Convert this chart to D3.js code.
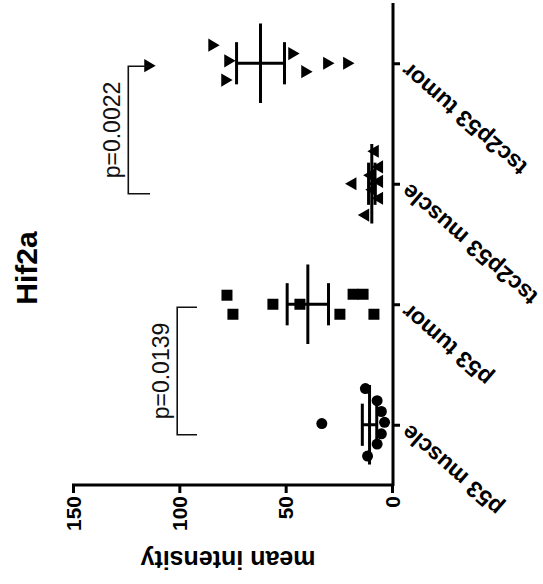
<!DOCTYPE html>
<html>
<head>
<meta charset="utf-8">
<script src="https://cdn.jsdelivr.net/npm/d3@7"></script>
<style>
  body { margin: 0; background: #fff; }
  svg { display: block; font-family: "Liberation Sans", Arial, sans-serif; }
</style>
</head>
<body>
<svg id="chart" width="543" height="584"></svg>
<script>
// data
const categories = ["p53 muscle", "p53 tumor", "tsc2p53 muscle", "tsc2p53 tumor"];
const p53Muscle  = [33, 12.5, 7, 5, 3.5, 5, 7, 11.5];
const p53Tumor   = [77.6, 74.8, 56, 43.3, 24.5, 18.3, 13.6, 8.5];
const tsc2Muscle = [18.5, 12.5, 8, 6, 6, 6, 10, 9];
const tsc2Tumor  = [114.7, 84.6, 77.1, 78.5, 47, 40.9, 30.6, 21.2];
const valueTicks = [0, 50, 100, 150];
const pLabels    = ["p=0.0139", "p=0.0022"];
const pPairs     = [["p53 muscle", "p53 tumor"], ["tsc2p53 muscle", "tsc2p53 tumor"]];
const pLevels    = [101, 124];   // bracket height (mean intensity)
const pArms      = [91.7, 113.8]; // where the bracket arms end

// scatter spread of points inside a column (fraction of one category step)
const p53MuscleJitter  = [-0.01, -0.3, -0.2, -0.11, -0.02, 0.075, 0.16, 0.26];
const p53TumorJitter   = [-0.075, 0.083, 0, 0, 0.083, -0.083, -0.083, 0.083];
const tsc2MuscleJitter = [0, 0.26, -0.27, -0.14, -0.02, 0.12, -0.07, 0.05];
const tsc2TumorJitter  = [0.02, -0.15, -0.02, 0.14, -0.08, 0.07, 0, 0];

const groups = [
  { name: categories[0], values: p53Muscle,  jitter: p53MuscleJitter,  symbol: d3.symbolCircle,   size: 95,  rot: 0 },
  { name: categories[1], values: p53Tumor,   jitter: p53TumorJitter,   symbol: d3.symbolSquare,   size: 121, rot: 0 },
  { name: categories[2], values: tsc2Muscle, jitter: tsc2MuscleJitter, symbol: d3.symbolTriangle, size: 75,  rot: -90 },
  { name: categories[3], values: tsc2Tumor,  jitter: tsc2TumorJitter,  symbol: d3.symbolTriangle, size: 75,  rot: 90 }
];

const svg = d3.select("#chart");

// the figure is laid on its side: values run right-to-left, groups bottom-to-top
const x = d3.scaleLinear().domain([0, 150]).range([392, 73]);
const y = d3.scalePoint().domain(categories).range([485, 3]).padding(0.5);
const step = y.step();

// value axis (bottom)
const xAxis = svg.append("g")
  .attr("transform", "translate(0,485)")
  .call(d3.axisBottom(x).tickValues(valueTicks).tickSize(8).tickSizeOuter(0));
xAxis.select(".domain").attr("stroke-width", 3).attr("d", "M72,0H394");
xAxis.selectAll(".tick line").attr("stroke-width", 3);
xAxis.selectAll(".tick text")
  .attr("x", -11).attr("y", 7).attr("dy", null)
  .attr("transform", "rotate(-90)")
  .attr("text-anchor", "end")
  .attr("fill", "#000")
  .attr("font-size", 21).attr("font-weight", "bold")
  .attr("font-family", "'Liberation Sans', Arial, sans-serif");

// category axis (right)
const yAxis = svg.append("g")
  .attr("transform", "translate(393,0)")
  .call(d3.axisRight(y).tickSize(7).tickSizeOuter(0));
yAxis.select(".domain").attr("stroke-width", 3).attr("d", "M0,3V486");
yAxis.selectAll(".tick line").attr("stroke-width", 3);
yAxis.selectAll(".tick text")
  .attr("x", 0).attr("y", 0).attr("dy", null)
  .attr("transform", "translate(17,-2) rotate(-139)")
  .attr("text-anchor", "end")
  .attr("fill", "#000")
  .attr("font-size", 23).attr("font-weight", "bold")
  .attr("font-family", "'Liberation Sans', Arial, sans-serif");

// points
groups.forEach(g => {
  const cy = y(g.name);
  svg.append("g").selectAll("path")
    .data(g.values)
    .join("path")
    .attr("d", d3.symbol().type(g.symbol).size(g.size))
    .attr("transform", (d, i) => `translate(${x(d)},${cy + g.jitter[i] * step}) rotate(${g.rot})`)
    .attr("fill", "#000");
});

// mean with SEM
groups.forEach(g => {
  const cy = y(g.name);
  const m = d3.mean(g.values);
  const sem = d3.deviation(g.values) / Math.sqrt(g.values.length);
  const eb = svg.append("g").attr("stroke", "#000").attr("stroke-width", 3);
  eb.append("line").attr("x1", x(m)).attr("x2", x(m)).attr("y1", cy - 0.33 * step).attr("y2", cy + 0.33 * step);
  eb.append("line").attr("x1", x(m - sem)).attr("x2", x(m + sem)).attr("y1", cy).attr("y2", cy);
  [m - sem, m + sem].forEach(v => {
    eb.append("line").attr("x1", x(v)).attr("x2", x(v)).attr("y1", cy - 0.175 * step).attr("y2", cy + 0.175 * step);
  });
});

// significance brackets
pLabels.forEach((label, i) => {
  const yLow = y(pPairs[i][0]) + 10;
  const yHigh = y(pPairs[i][1]) + 3;
  const bx = x(pLevels[i]);
  const ax = x(pArms[i]);
  svg.append("path")
    .attr("d", `M${ax},${yHigh}H${bx}V${yLow}H${ax}`)
    .attr("fill", "none")
    .attr("stroke", "#111")
    .attr("stroke-width", 1.6);
  svg.append("text")
    .attr("transform", `translate(${bx - 8},${(yLow + yHigh) / 2}) rotate(-90)`)
    .attr("text-anchor", "middle")
    .attr("font-size", 23)
    .attr("fill", "#111")
    .text(label);
});

// axis title and chart title
svg.append("text")
  .attr("transform", "translate(228,551) rotate(180)")
  .attr("text-anchor", "middle")
  .attr("font-size", 25).attr("font-weight", "bold")
  .text("mean intensity");

svg.append("text")
  .attr("transform", "translate(37,268) rotate(-90)")
  .attr("text-anchor", "middle")
  .attr("font-size", 30).attr("font-weight", "bold")
  .text("Hif2a");
</script>
</body>
</html>
